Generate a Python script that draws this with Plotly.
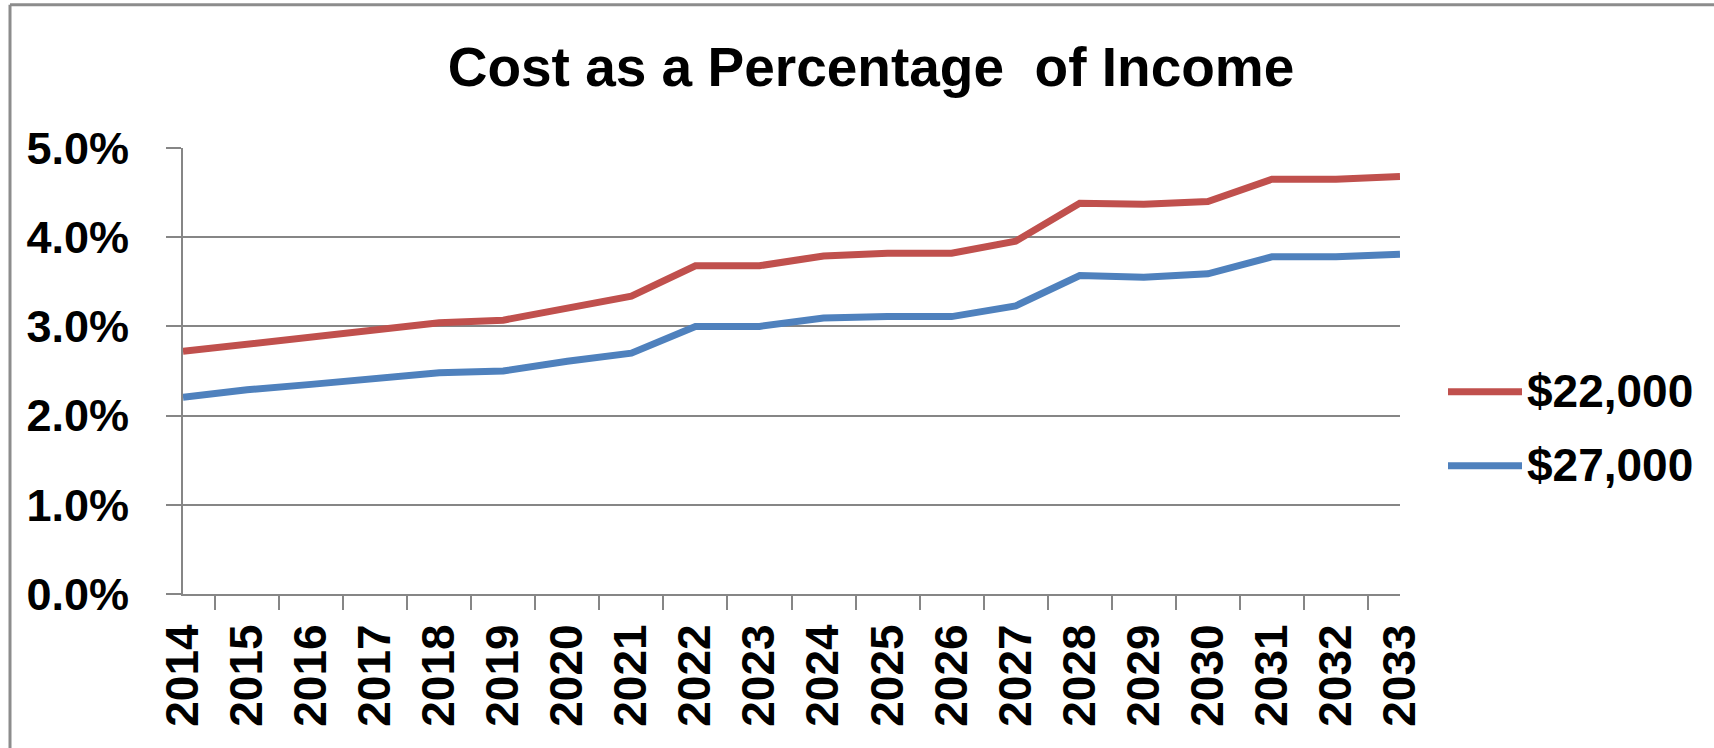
import plotly.graph_objects as go

years = [str(y) for y in range(2014, 2034)]
income_22000 = [0.0272, 0.0280, 0.0287, 0.0296, 0.0304, 0.0307, 0.0321, 0.0334, 0.0368, 0.0368,
                0.0379, 0.0382, 0.0382, 0.03955, 0.0438, 0.0437, 0.0440, 0.0465, 0.0465, 0.0468]
income_27000 = [0.02205, 0.0229, 0.0235, 0.0241, 0.0248, 0.0250, 0.0261, 0.0270, 0.0300, 0.0300,
                0.03095, 0.0311, 0.0311, 0.0323, 0.0357, 0.0355, 0.0359, 0.0378, 0.0378, 0.0381]
series_names = ["$22,000", "$27,000"]
series_colors = ["#C0504D", "#4F81BD"]
title_text = "Cost as a Percentage\u00a0 of Income"

W, H = 1714, 748
L, R = 183, 1400          # plot area pixel extent (x)
T, B = 148.3, 594.3       # plot area pixel extent (y)
PW, PH = R - L, B - T

def px(x):
    return (x - L) / PW

def py(y):
    return (B - y) / PH

FONT = "Liberation Sans, Arial, Helvetica, sans-serif"
GRAY = "#868686"

fig = go.Figure()
for name, vals, col in zip(series_names, [income_22000, income_27000], series_colors):
    fig.add_trace(go.Scatter(x=years, y=vals, mode="lines", name=name,
                             line=dict(color=col, width=7), showlegend=False))

# custom legend (long line samples like the original)
legend_y = [392, 466]
shapes = []
annotations = []
for name, col, ly in zip(series_names, series_colors, legend_y):
    shapes.append(dict(type="line", xref="paper", yref="paper",
                       x0=px(1448), x1=px(1522), y0=py(ly), y1=py(ly),
                       line=dict(color=col, width=7)))
    annotations.append(dict(xref="paper", yref="paper", x=px(1525), y=py(ly - 1),
                            xanchor="left", yanchor="middle", showarrow=False,
                            text="<b>%s</b>" % name,
                            font=dict(family=FONT, size=46, color="black")))

# outer chart border (top and left visible)
shapes.append(dict(type="line", xref="paper", yref="paper",
                   x0=px(10), x1=px(W + 20), y0=py(5), y1=py(5),
                   line=dict(color="#8C8C8C", width=3)))
shapes.append(dict(type="line", xref="paper", yref="paper",
                   x0=px(10), x1=px(10), y0=py(5), y1=py(H + 20),
                   line=dict(color="#8C8C8C", width=3)))

fig.update_layout(
    width=W, height=H,
    margin=dict(l=L, r=W - R, t=T, b=H - B, autoexpand=False),
    paper_bgcolor="white", plot_bgcolor="white",
    title=dict(text="<b>%s</b>" % title_text, x=0.5 + 14 / W, xanchor="center",
               y=1 - 67 / H, yanchor="middle", yref="container",
               font=dict(family=FONT, size=55, color="black")),
    shapes=shapes,
    annotations=annotations,
    showlegend=False,
    xaxis=dict(type="category", tickson="boundaries", ticks="outside", ticklen=14,
               tickwidth=2, tickcolor=GRAY, showline=True, linecolor=GRAY, linewidth=2,
               showgrid=False, tickangle=-90,
               tickfont=dict(family=FONT, size=46, color="black", weight="bold"),
               ticklabelstandoff=10),
    yaxis=dict(range=[0, 0.05], tick0=0, dtick=0.01, tickformat=".1%",
               ticks="outside", ticklen=15, tickwidth=2, tickcolor=GRAY,
               showline=True, linecolor=GRAY, linewidth=2,
               showgrid=True, gridcolor=GRAY, gridwidth=2, zeroline=False,
               tickfont=dict(family=FONT, size=45, color="black", weight="bold"),
               ticklabelstandoff=28),
)

fig.write_html("out.html")
